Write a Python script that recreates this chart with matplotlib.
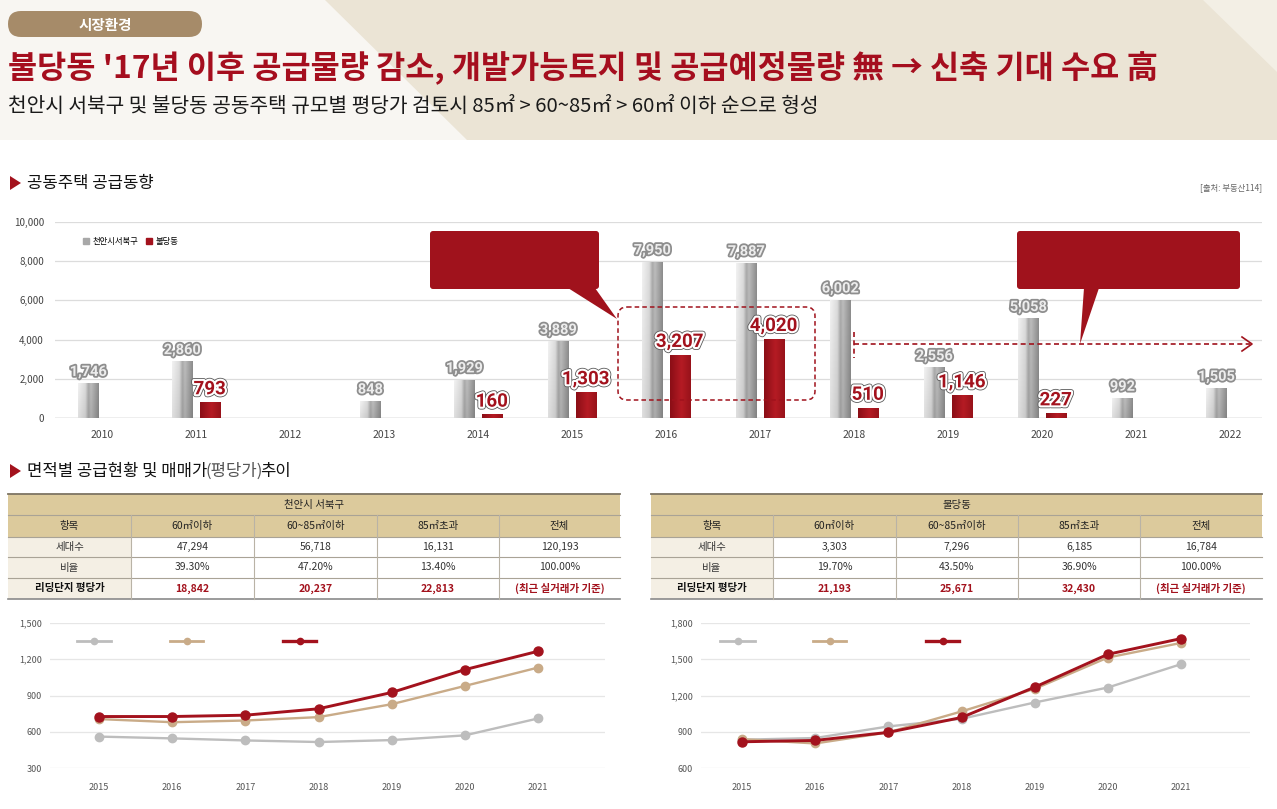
import numpy as np
import matplotlib
matplotlib.use('Agg')
import matplotlib.pyplot as plt
from matplotlib.patches import Rectangle, Polygon, FancyBboxPatch, Patch
from matplotlib.lines import Line2D
import matplotlib.patheffects as pe
from matplotlib.colors import to_rgb
from matplotlib.ticker import FuncFormatter

plt.rcParams['font.family'] = ['Noto Sans CJK KR', 'DejaVu Sans']

# ---------------- data ----------------
bar_years = ['2010', '2011', '2012', '2013', '2014', '2015', '2016',
             '2017', '2018', '2019', '2020', '2021', '2022']
seobuk_supply = [1746, 2860, np.nan, 848, 1929, 3889, 7950, 7887, 6002, 2556, 5058, 992, 1505]
buldang_supply = [np.nan, 793, np.nan, np.nan, 160, 1303, 3207, 4020, 510, 1146, 227, np.nan, np.nan]
bar_series_names = ['천안시서북구', '불당동']

line_years = [2015, 2016, 2017, 2018, 2019, 2020, 2021]
seobuk_60 = [560, 545, 528, 515, 531, 570, 710]
seobuk_6085 = [705, 679, 693, 721, 828, 979, 1131]
seobuk_85 = [726, 726, 737, 790, 925, 1114, 1266]
buldang_60 = [834, 848, 944, 1007, 1142, 1266, 1459]
buldang_6085 = [839, 803, 895, 1068, 1255, 1514, 1635]
buldang_85 = [817, 828, 895, 1018, 1269, 1541, 1671]

table_cols = ['항목', '60㎡이하', '60~85㎡이하', '85㎡초과', '전체']
table_rows = ['세대수', '비율', '리딩단지 평당가']
seobuk_title = '천안시 서북구'
seobuk_households = ['47,294', '56,718', '16,131', '120,193']
seobuk_ratio = ['39.30%', '47.20%', '13.40%', '100.00%']
seobuk_price = ['18,842', '20,237', '22,813', '(최근 실거래가 기준)']
buldang_title = '불당동'
buldang_households = ['3,303', '7,296', '6,185', '16,784']
buldang_ratio = ['19.70%', '43.50%', '36.90%', '100.00%']
buldang_price = ['21,193', '25,671', '32,430', '(최근 실거래가 기준)']

title = "불당동 '17년 이후 공급물량 감소, 개발가능토지 및 공급예정물량 無 → 신축 기대 수요 高"
subtitle = '천안시 서북구 및 불당동 공동주택 규모별 평당가 검토시 85㎡ > 60~85㎡ > 60㎡ 이하 순으로 형성'

# ---------------- style ----------------
RED = '#A3121D'
GRAY_LINE = '#BDBDBD'
TAN_LINE = '#C9AB88'
TAN_BG = '#DCCA9C'
LIGHT_BG = '#F4EFE4'

W, H = 1277, 809
fig = plt.figure(figsize=(W / 100, H / 100), dpi=100)
fig.patch.set_facecolor('white')


def px_axes(l, t, r, b, z=1):
    return fig.add_axes([l / W, 1 - b / H, (r - l) / W, (b - t) / H], zorder=z)


# background axes in pixel coordinates
bg = fig.add_axes([0, 0, 1, 1], zorder=0)
bg.set_xlim(0, W)
bg.set_ylim(H, 0)
bg.axis('off')

bg.add_patch(Rectangle((0, 0), W, 140, color='#EBE4D5', lw=0))
bg.add_patch(Polygon([(0, 0), (325, 0), (467, 140), (0, 140)], color='#F8F6F2', lw=0))
bg.add_patch(Polygon([(1203, 0), (W, 0), (W, 72)], color='#F3EFE5', lw=0))

# badge
bg.add_patch(FancyBboxPatch((8, 11), 194, 26, boxstyle='round,pad=0,rounding_size=13',
                            color='#A68B69', lw=0))
bg.text(105, 24.5, '시장환경', color='white', fontsize=10.5, fontweight='bold',
        ha='center', va='center')

bg.text(8, 68, title, color='#A50E1E', fontsize=22.8, fontweight='bold', ha='left', va='center')
bg.text(8, 106, subtitle, color='#1a1a1a', fontsize=14.6, ha='left', va='center')

# section headers
bg.add_patch(Polygon([(10, 176), (10, 190), (21, 183)], color=RED, lw=0))
bg.text(27, 183, '공동주택 공급동향', fontsize=12, color='#111', ha='left', va='center')
bg.text(1262, 188, '[출처: 부동산114]', fontsize=6, color='#666', ha='right', va='center')

bg.add_patch(Polygon([(10, 464), (10, 478), (21, 471)], color=RED, lw=0))
t1 = bg.text(27, 471, '면적별 공급현황 및 매매가', fontsize=12, color='#111', ha='left', va='center')
t2 = bg.annotate('(평당가)', xy=(1, 0.5), xycoords=t1, xytext=(-1.5, 0), textcoords='offset points',
                 fontsize=12, color='#555', ha='left', va='center', fontweight='light')
bg.annotate('추이', xy=(1, 0.5), xycoords=t2, xytext=(-1.5, 0), textcoords='offset points',
            fontsize=12, color='#111', ha='left', va='center')

# ---------------- bar chart ----------------
ax = px_axes(55, 222, 1262, 418, z=1)
ax.set_facecolor('none')
x = np.arange(len(bar_years))
bw = 0.215
off = 0.145

# gradients
nx = 64
tt = np.linspace(0, 1, nx)
gstops = [(0.0, 0.95), (0.35, 0.86), (0.5, 0.66), (0.62, 0.74), (1.0, 0.55)]
gh = np.interp(tt, [s[0] for s in gstops], [s[1] for s in gstops])
ny = 64
vv = np.linspace(0, 1, ny)  # 0 = top
vfac = 1.0 - 0.08 * vv
gray_grad = np.clip(gh[None, :] * vfac[:, None], 0, 1)
gray_img = np.dstack([gray_grad] * 3)

r0 = np.array(to_rgb('#8A0E16'))
r1 = np.array(to_rgb('#B51B24'))
rstops = np.interp(tt, [0, 0.55, 1], [0, 1, 0.3])
red_img = (r0[None, :] * (1 - rstops[:, None]) + r1[None, :] * rstops[:, None])[None, :, :]
red_img = np.repeat(red_img, 4, axis=0)

gray_fx = [pe.Stroke(linewidth=2.6, foreground='#8E8E8E'), pe.Normal()]
red_fx = [pe.Stroke(linewidth=4.2, foreground='#5a5a5a'),
          pe.Stroke(linewidth=3.0, foreground='white'), pe.Normal()]

for xi, v in zip(x, seobuk_supply):
    if np.isnan(v):
        continue
    c = xi - off
    ax.bar(c, v, width=bw, color='#C0C0C0', zorder=2)
    ax.imshow(gray_img, extent=(c - bw / 2, c + bw / 2, 0, v), aspect='auto',
              zorder=3, interpolation='bilinear')
    ax.annotate(f'{int(v):,}', xy=(c, v), xytext=(0, 8.5), textcoords='offset points',
                ha='center', va='center', fontsize=10.5, fontweight='bold',
                family=['Roboto', 'DejaVu Sans'], color='#EDEDED', path_effects=gray_fx,
                zorder=6)

for xi, v in zip(x, buldang_supply):
    if np.isnan(v):
        continue
    c = xi + off
    ax.bar(c, v, width=bw, color=RED, zorder=2)
    ax.imshow(red_img, extent=(c - bw / 2, c + bw / 2, 0, v), aspect='auto',
              zorder=3, interpolation='bilinear')
    ax.annotate(f'{int(v):,}', xy=(c, v), xytext=(0, 9.5), textcoords='offset points',
                ha='center', va='center', fontsize=13.5, fontweight='bold',
                family=['Roboto', 'DejaVu Sans'], color=RED, path_effects=red_fx,
                zorder=6)

ax.set_xlim(-0.5, 12.34)
ax.set_ylim(0, 10000)
ax.set_yticks(np.arange(0, 10001, 2000))
ax.yaxis.set_major_formatter(FuncFormatter(lambda v, p: f'{int(v):,}'))
ax.set_xticks(x)
ax.set_xticklabels(bar_years)
ax.tick_params(axis='both', length=0, labelsize=7, colors='#444')
ax.tick_params(axis='x', pad=9, labelsize=7.5)
ax.tick_params(axis='y', pad=8)
for s in ax.spines.values():
    s.set_visible(False)
ax.grid(axis='y', color='#DCDCDC', lw=0.9, zorder=0)
ax.set_axisbelow(True)
ax.axhline(0, color='#BDBDBD', lw=1.0, zorder=1)
leg = ax.legend(handles=[Patch(color='#A8A8A8'), Patch(color=RED)], labels=bar_series_names,
                loc='upper left', bbox_to_anchor=(0.023, 0.925), ncol=2, frameon=False,
                fontsize=6, handlelength=0.75, handleheight=0.75, handletextpad=0.4,
                columnspacing=0.9, borderpad=0, borderaxespad=0)

# ---------------- tables ----------------

def draw_table(cols_px, title_txt, households, ratio, price):
    rows_px = [494, 515, 537, 557, 578, 599]
    l, r = cols_px[0], cols_px[-1]
    bg.add_patch(Rectangle((l, rows_px[0]), r - l, rows_px[2] - rows_px[0], color=TAN_BG, lw=0))
    bg.add_patch(Rectangle((l, rows_px[2]), cols_px[1] - l, rows_px[5] - rows_px[2],
                           color=LIGHT_BG, lw=0))
    for yy in rows_px[1:5]:
        bg.plot([l, r], [yy, yy], color='#A9A396', lw=0.8)
    bg.plot([l, r], [rows_px[0], rows_px[0]], color='#7D7463', lw=1.3)
    bg.plot([l, r], [rows_px[5], rows_px[5]], color='#8A8A8A', lw=1.2)
    for xx in cols_px[1:-1]:
        bg.plot([xx, xx], [rows_px[1], rows_px[5]], color='#B9B3A6', lw=0.8)
    bg.text((l + r) / 2, (rows_px[0] + rows_px[1]) / 2, title_txt, fontsize=7.5,
            color='#222', ha='center', va='center')
    centers = [(cols_px[i] + cols_px[i + 1]) / 2 for i in range(len(cols_px) - 1)]
    yc = [(rows_px[i] + rows_px[i + 1]) / 2 for i in range(1, 5)]
    for cx, txt in zip(centers, table_cols):
        bg.text(cx, yc[0], txt, fontsize=7.5, color='#222', ha='center', va='center')
    for ri, (lab, vals) in enumerate(zip(table_rows, [households, ratio, price])):
        bold = ri == 2
        bg.text(centers[0], yc[ri + 1], lab, fontsize=7.5, color='#111' if bold else '#333',
                fontweight='bold' if bold else 'normal', ha='center', va='center')
        for cx, v in zip(centers[1:], vals):
            bg.text(cx, yc[ri + 1], v, fontsize=7.5,
                    color=RED if bold else '#333',
                    fontweight='bold' if bold else 'normal', ha='center', va='center')


draw_table([8, 131, 254, 377, 499, 620], seobuk_title, seobuk_households, seobuk_ratio, seobuk_price)
draw_table([651, 773, 896, 1018, 1140, 1262], buldang_title, buldang_households, buldang_ratio,
           buldang_price)

# ---------------- line charts ----------------

def line_chart(lpx, rpx, yr0px, yr1px, ylim, series, legend_px):
    axl = px_axes(lpx, 623, rpx, 768, z=1)
    axl.set_facecolor('none')
    span = (yr1px - yr0px) / 6
    axl.set_xlim(2015 - (yr0px - lpx) / span, 2021 + (rpx - yr1px) / span)
    axl.set_ylim(*ylim)
    axl.set_yticks(np.arange(ylim[0], ylim[1] + 1, 300))
    axl.yaxis.set_major_formatter(FuncFormatter(lambda v, p: f'{int(v):,}'))
    axl.set_xticks(line_years)
    axl.tick_params(axis='both', length=0, labelsize=6.5, colors='#555')
    axl.tick_params(axis='x', pad=11)
    axl.tick_params(axis='y', pad=6)
    for s in axl.spines.values():
        s.set_visible(False)
    axl.grid(axis='y', color='#E6E6E6', lw=0.9)
    axl.set_axisbelow(True)
    styles = [(GRAY_LINE, 1.7, 6.0), (TAN_LINE, 1.7, 6.0), (RED, 2.1, 6.5)]
    for vals, (col, lw, ms) in zip(series, styles):
        axl.plot(line_years, vals, color=col, lw=lw, marker='o', ms=ms, clip_on=False, zorder=3)
    for (x0, x1), (col, lw, ms) in zip(legend_px, styles):
        bg.add_line(Line2D([x0, x1], [641, 641], color=col, lw=lw + 0.3, zorder=3))
        bg.add_line(Line2D([(x0 + x1) / 2], [641], color=col, marker='o', ms=4.5, zorder=3))


line_chart(50, 605, 99, 538, (300, 1500), [seobuk_60, seobuk_6085, seobuk_85],
           [(77, 111), (170, 203), (283, 316)])
line_chart(701, 1250, 742, 1181, (600, 1800), [buldang_60, buldang_6085, buldang_85],
           [(720, 755), (813, 846), (926, 959)])

# ---------------- overlay annotations on bar chart ----------------
ov = fig.add_axes([0, 0, 1, 1], zorder=5)
ov.set_xlim(0, W)
ov.set_ylim(H, 0)
ov.axis('off')
ov.patch.set_alpha(0)

CALL = '#A0121C'
ov.add_patch(FancyBboxPatch((430, 231), 169, 58, boxstyle='round,pad=0,rounding_size=3',
                            color=CALL, lw=0))
ov.add_patch(Polygon([(568, 288), (595, 288), (617, 319)], color=CALL, lw=0))
ov.add_patch(FancyBboxPatch((1017, 231), 223, 58, boxstyle='round,pad=0,rounding_size=3',
                            color=CALL, lw=0))
ov.add_patch(Polygon([(1084, 288), (1099, 288), (1080, 344)], color=CALL, lw=0))

ov.add_patch(FancyBboxPatch((618, 307), 197, 93, boxstyle='round,pad=0,rounding_size=9',
                            fill=False, edgecolor=CALL, lw=1.1, linestyle=(0, (3, 2))))
ov.add_line(Line2D([854, 1250], [344, 344], color=CALL, lw=1.2, linestyle=(0, (3, 2))))
ov.add_line(Line2D([854, 854], [332, 358], color=CALL, lw=1.2, linestyle=(0, (3, 2))))
ov.add_line(Line2D([1242, 1252, 1242], [337, 344, 351], color=CALL, lw=1.2))

fig.savefig('out.png', dpi=100)
